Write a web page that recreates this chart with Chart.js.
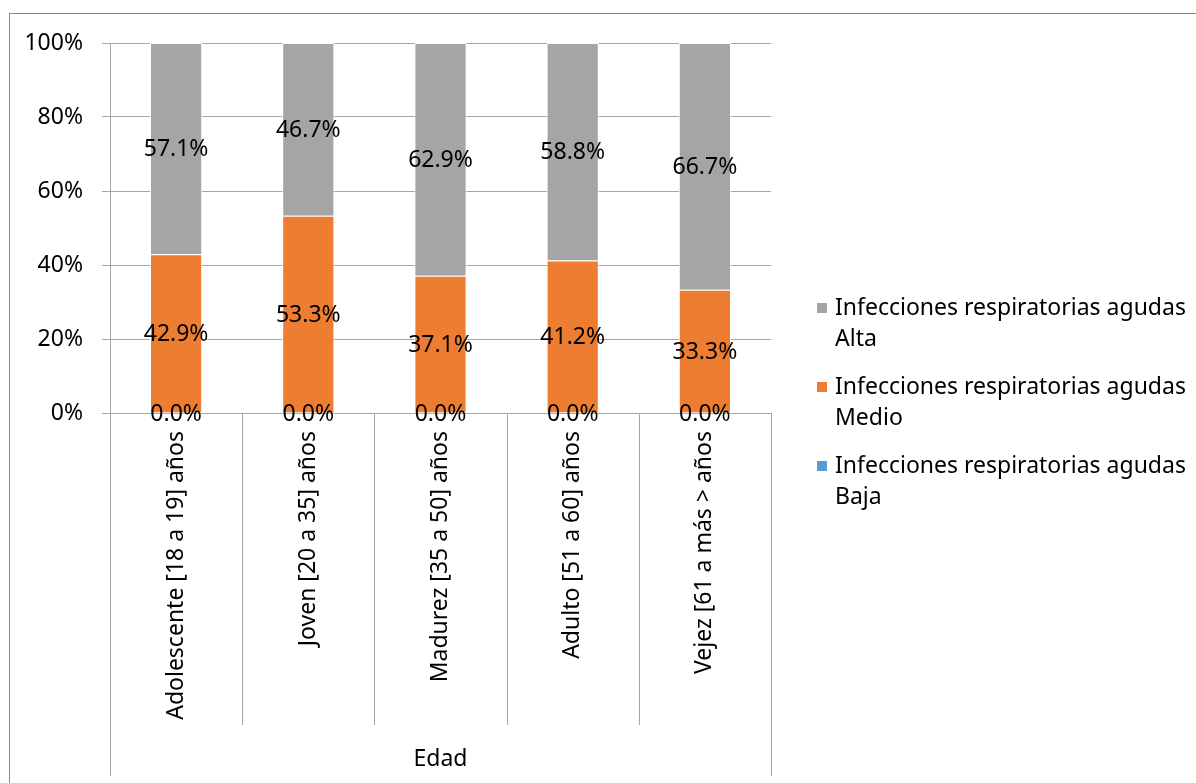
<!DOCTYPE html>
<html lang="es">
<head>
<meta charset="utf-8">
<title>Infecciones respiratorias agudas por edad</title>
<script src="https://cdn.jsdelivr.net/npm/chart.js@4/dist/chart.umd.min.js"></script>
<style>
  html, body { margin: 0; padding: 0; background: #fff; }
  #wrap { position: relative; width: 1196px; height: 783px; }
</style>
</head>
<body>
<div id="wrap"><canvas id="grafico"></canvas></div>
<script>
// Edad de los pacientes
const categorias = [
    'Adolescente [18 a 19] años',
    'Joven [20 a 35] años',
    'Madurez [35 a 50] años',
    'Adulto [51 a 60] años',
    'Vejez [61 a más > años'
];

// Porcentajes por nivel
const baja = [0.0, 0.0, 0.0, 0.0, 0.0];
const medio = [42.9, 53.3, 37.1, 41.2, 33.3];
const alta = [57.1, 46.7, 62.9, 58.8, 66.7];

const marcasY = [0, 20, 40, 60, 80, 100];

const FUENTE = "'Noto Sans', 'Open Sans', sans-serif";
const TAM = 23;
const GRIS_EJE = '#a6a6a6';

// marco exterior del gráfico
const marco = {
    id: 'marco',
    beforeDraw(chart) {
        const ctx = chart.ctx;
        ctx.save();
        ctx.strokeStyle = '#8a8a8a';
        ctx.lineWidth = 1;
        ctx.strokeRect(9.5, 13.5, chart.width + 20, chart.height + 20);
        ctx.restore();
    }
};

// líneas separadoras de categorías bajo el eje x
const separadores = {
    id: 'separadores',
    afterDraw(chart) {
        const x = chart.scales.x;
        const ctx = chart.ctx;
        const fondo = chart.chartArea.bottom;
        ctx.save();
        ctx.strokeStyle = GRIS_EJE;
        ctx.lineWidth = 1;
        for (let i = 0; i <= categorias.length; i++) {
            const px = Math.round(x.getPixelForValue(i - 0.5)) + 0.5;
            const extremo = (i === 0 || i === categorias.length);
            ctx.beginPath();
            ctx.moveTo(px, fondo);
            ctx.lineTo(px, fondo + (extremo ? 363 : 312));
            ctx.stroke();
        }
        ctx.restore();
    }
};

// etiquetas de valor en el centro de cada segmento
const etiquetas = {
    id: 'etiquetas',
    afterDatasetsDraw(chart) {
        const ctx = chart.ctx;
        ctx.save();
        ctx.font = TAM + 'px ' + FUENTE;
        ctx.fillStyle = '#000';
        ctx.textAlign = 'center';
        ctx.textBaseline = 'middle';
        chart.data.datasets.forEach((ds, i) => {
            chart.getDatasetMeta(i).data.forEach((el, j) => {
                const yc = (el.y + el.base) / 2;
                ctx.fillText(ds.data[j].toFixed(1) + '%', el.x, yc + 1);
            });
        });
        ctx.restore();
    }
};

// leyenda a la derecha con texto en dos líneas
const leyenda = {
    id: 'leyenda',
    afterDraw(chart) {
        const ctx = chart.ctx;
        const x0 = chart.chartArea.right + 46;
        let y = 308;
        ctx.save();
        ctx.font = TAM + 'px ' + FUENTE;
        ctx.textAlign = 'left';
        ctx.textBaseline = 'middle';
        const items = chart.data.datasets.slice().reverse();
        items.forEach(ds => {
            ctx.fillStyle = ds.backgroundColor;
            ctx.fillRect(x0, y - 5, 10, 10);
            ctx.fillStyle = '#000';
            const lineas = ds.label.split('\n');
            lineas.forEach((t, k) => ctx.fillText(t, x0 + 18, y + k * 31.5));
            y += 79;
        });
        ctx.restore();
    }
};

new Chart(document.getElementById('grafico'), {
    type: 'bar',
    data: {
        labels: categorias,
        datasets: [
            {
                label: 'Infecciones respiratorias agudas\nBaja',
                data: baja,
                backgroundColor: '#5b9bd5',
                borderWidth: 0
            },
            {
                label: 'Infecciones respiratorias agudas\nMedio',
                data: medio,
                backgroundColor: '#ed7d31',
                borderColor: '#ffffff',
                borderWidth: 1
            },
            {
                label: 'Infecciones respiratorias agudas\nAlta',
                data: alta,
                backgroundColor: '#a5a5a5',
                borderColor: '#ffffff',
                borderWidth: 1
            }
        ]
    },
    options: {
        responsive: true,
        maintainAspectRatio: false,
        animation: false,
        barPercentage: 0.395,
        categoryPercentage: 1,
        layout: { padding: { top: 43, right: 425, bottom: 0, left: 0 } },
        plugins: {
            legend: { display: false },
            tooltip: { enabled: false }
        },
        scales: {
            x: {
                stacked: true,
                grid: { display: false },
                border: { display: false },
                ticks: {
                    autoSkip: false,
                    minRotation: 90,
                    maxRotation: 90,
                    padding: 10,
                    color: '#000',
                    font: { family: FUENTE, size: TAM }
                },
                title: {
                    display: true,
                    text: 'Edad',
                    color: '#000',
                    font: { family: FUENTE, size: TAM },
                    padding: { top: 0, bottom: 10 }
                },
                afterFit(scale) { scale.height = 370; }
            },
            y: {
                stacked: true,
                min: marcasY[0],
                max: marcasY[marcasY.length - 1],
                afterBuildTicks(scale) {
                    scale.ticks = marcasY.map(v => ({ value: v }));
                },
                grid: { color: GRIS_EJE, tickLength: 8 },
                border: { color: GRIS_EJE },
                ticks: {
                    padding: 19,
                    color: '#000',
                    font: { family: FUENTE, size: TAM },
                    callback: v => v + '%'
                },
                afterFit(scale) { scale.width = 110; }
            }
        }
    },
    plugins: [marco, separadores, etiquetas, leyenda]
});
</script>
</body>
</html>
